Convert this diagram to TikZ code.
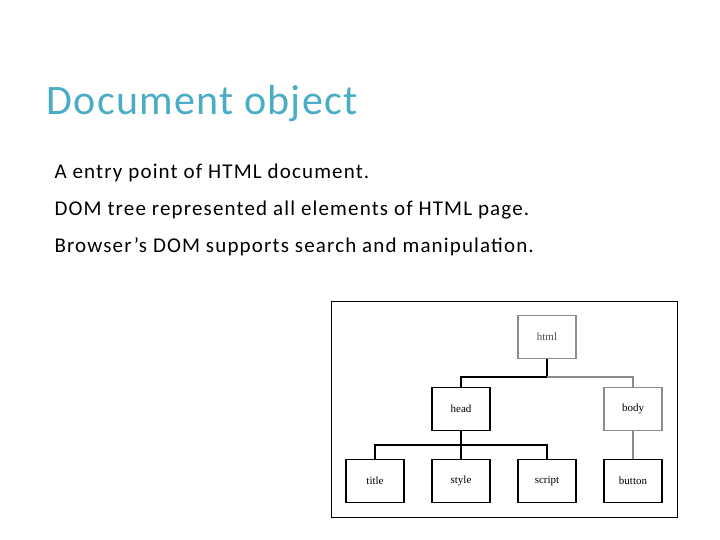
\documentclass[tikz,border=0pt]{standalone}
\usepackage{fontspec}
\setmainfont{Carlito}
\newfontfamily\treefont{Liberation Serif}
\newfontfamily\bodyfont[LetterSpace=5.5]{Carlito}
\newfontfamily\ttlfont[LetterSpace=3]{Carlito}
\definecolor{ttl}{RGB}{75,172,198}
\begin{document}
\begin{tikzpicture}[x=1pt,y=-1pt,
  box/.style={draw=black,line width=1.2pt,minimum width=58pt,minimum height=43pt,inner sep=0pt,font=\treefont\fontsize{11}{13}\selectfont},
  gbox/.style={box,draw=black!45},
  txt/.style={anchor=west,font=\bodyfont\fontsize{21}{25}\selectfont},
  link/.style={line width=1.2pt}]
\useasboundingbox (0,0) rectangle (720,540);
\node[anchor=west,text=ttl,font=\ttlfont\fontsize{42}{50}\selectfont] (t) at (43,104) {Document object};
\node[txt] (l1) at (51,173) {A entry point of HTML document.};
\node[txt] (l2) at (51,210) {DOM tree represented all elements of HTML page.};
\node[txt] (l3) at (51,247) {Browser’s DOM supports search and manipulation.};
\draw[line width=1pt] (331,301) rectangle (677,517);
\node[gbox,text=black!70] (html) at (547,337) {html};
\node[box] (head) at (461,409) {head};
\node[gbox] (body) at (633,409) {body};
\node[box] (title) at (375,481) {title};
\node[box] (style) at (461,481) {style};
\node[box] (script) at (547,481) {script};
\node[box] (button) at (633,481) {button};
\coordinate (j1) at (547,377);
\coordinate (j2) at (461,445);
\draw[link] (html.south) -- (j1);
\draw[link] (head.north) |- (j1);
\draw[link,black!45] (j1) -| (body.north);
\draw[link] (head.south) -- (j2);
\draw[link] (title.north) |- (j2) -| (script.north);
\draw[link] (j2) -- (style.north);
\draw[link,black!45] (body.south) -- (button.north);
\end{tikzpicture}
\end{document}
